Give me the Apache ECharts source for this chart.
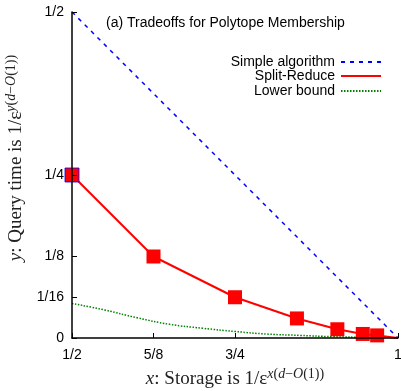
<html>
<head>
<meta charset="utf-8">
<title>Tradeoffs for Polytope Membership</title>
<script src="https://cdn.jsdelivr.net/npm/echarts@6/dist/echarts.min.js"></script>
<style>
  html, body { margin: 0; padding: 0; background: #fff; }
  #main { width: 401px; height: 391px; }
</style>
</head>
<body>
<div id="main"></div>
<script>
// values
var simpleX = [0.5, 1]
var simpleY = [0.5, 0]

var splitX = [0.5, 0.625, 0.75, 0.845, 0.907, 0.946, 0.968, 1]
var splitY = [0.25, 0.125, 0.0625, 0.030, 0.0134, 0.0062, 0.004, 0]

var lowerX = [0.5, 0.55, 0.6, 0.65, 0.7, 0.75, 0.8, 0.85, 0.9, 0.95, 1]
var lowerY = [0.053, 0.043, 0.031, 0.021, 0.015, 0.010, 0.006, 0.004, 0.002, 0.001, 0]

var xTicks = [0.5, 0.625, 0.75, 1]
var xTickText = ['1/2', '5/8', '3/4', '1']
var yTicks = [0, 0.0625, 0.125, 0.25, 0.5]
var yTickText = ['0', '1/16', '1/8', '1/4', '1/2']

function pairs(xs, ys) {
  var out = []
  for (var i = 0; i < xs.length; i++) out.push([xs[i], ys[i]])
  return out
}

function tickLabel(ticks, text) {
  return function (v) {
    for (var i = 0; i < ticks.length; i++) {
      if (Math.abs(ticks[i] - v) < 1e-9) return text[i]
    }
    return ''
  }
}

var splitData = pairs(splitX, splitY).map(function (p, i) {
  var item = { value: p }
  if (i == 0) item.itemStyle = { borderColor: '#0000ff', borderWidth: 0.8 }
  if (i == splitX.length - 1) item.symbol = 'none'
  return item
})

var sans = 'Liberation Sans, Arial, sans-serif'
var serif = 'Liberation Serif, Times New Roman, serif'

var nameRich = {
  i: { fontFamily: serif, fontStyle: 'italic', fontSize: 19, color: '#222' },
  sup: { fontFamily: serif, fontSize: 14, color: '#222', padding: [0, 0, 10, 0] },
  supi: { fontFamily: serif, fontStyle: 'italic', fontSize: 14, color: '#222', padding: [0, 0, 10, 0] }
}

function legendFor(name, top) {
  return {
    data: [name],
    orient: 'vertical',
    right: 19,
    top: top,
    align: 'right',
    itemWidth: 40,
    itemHeight: 12,
    itemGap: 0,
    padding: 0,
    itemStyle: { opacity: 0 },
    textStyle: { fontFamily: sans, fontSize: 14, color: '#000', padding: [0, 1, 0, 0] },
    selectedMode: false
  }
}

var myChart = echarts.init(document.getElementById('main'))

var option = {
  animation: false,
  title: {
    text: '(a) Tradeoffs for Polytope Membership',
    left: 106,
    top: 16,
    padding: 0,
    textStyle: { fontFamily: sans, fontSize: 14, fontWeight: 'normal', color: '#000' }
  },
  legend: [
    legendFor('Simple algorithm', 55),
    legendFor('Split-Reduce', 69),
    legendFor('Lower bound', 84)
  ],
  grid: { left: 72, right: 3, top: 12, bottom: 53, containLabel: false, outerBoundsMode: 'none' },
  xAxis: {
    type: 'value',
    min: 0.5,
    max: 1,
    z: 5,
    axisLine: { lineStyle: { color: '#000', width: 1.5 } },
    axisTick: { inside: true, length: 5, customValues: xTicks, lineStyle: { color: '#000' } },
    axisLabel: {
      customValues: xTicks,
      formatter: tickLabel(xTicks, xTickText),
      margin: 10,
      fontFamily: sans,
      fontSize: 14,
      color: '#000'
    },
    splitLine: { show: false },
    name: '{i|x}: Storage is 1/ε{supi|x}{sup|(}{supi|d}{sup|−}{supi|O}{sup|(1))}',
    nameLocation: 'middle',
    nameGap: 26,
    nameTextStyle: { fontFamily: serif, fontSize: 19, color: '#222', rich: nameRich }
  },
  yAxis: {
    type: 'value',
    min: 0,
    max: 0.5,
    z: 5,
    axisLine: { lineStyle: { color: '#000', width: 1.5 } },
    axisTick: { inside: true, length: 5, customValues: yTicks, lineStyle: { color: '#000' } },
    axisLabel: {
      customValues: yTicks,
      formatter: tickLabel(yTicks, yTickText),
      margin: 8,
      fontFamily: sans,
      fontSize: 14,
      color: '#000'
    },
    splitLine: { show: false },
    name: '{i|y}: Query time is 1/ε{supi|y}{sup|(}{supi|d}{sup|−}{supi|O}{sup|(1))}',
    nameLocation: 'middle',
    nameGap: 38,
    nameTextStyle: { fontFamily: serif, fontSize: 19, color: '#222', rich: nameRich, padding: [0, 0, 0, 34] }
  },
  series: [
    {
      name: 'Simple algorithm',
      type: 'line',
      data: pairs(simpleX, simpleY),
      symbol: 'none',
      lineStyle: { color: '#0000ff', width: 1.5, type: [4, 5] },
      itemStyle: { color: '#0000ff' },
      z: 2
    },
    {
      name: 'Split-Reduce',
      type: 'line',
      data: splitData,
      symbol: 'rect',
      symbolSize: 14,
      showAllSymbol: true,
      lineStyle: { color: '#ff0000', width: 2 },
      itemStyle: { color: '#ff0000' },
      z: 3
    },
    {
      name: 'Lower bound',
      type: 'line',
      data: pairs(lowerX, lowerY),
      symbol: 'none',
      smooth: true,
      lineStyle: { color: '#008000', width: 1.5, type: [1.5, 1.5] },
      itemStyle: { color: '#008000' },
      z: 2
    }
  ]
}
myChart.setOption(option)
</script>
</body>
</html>
